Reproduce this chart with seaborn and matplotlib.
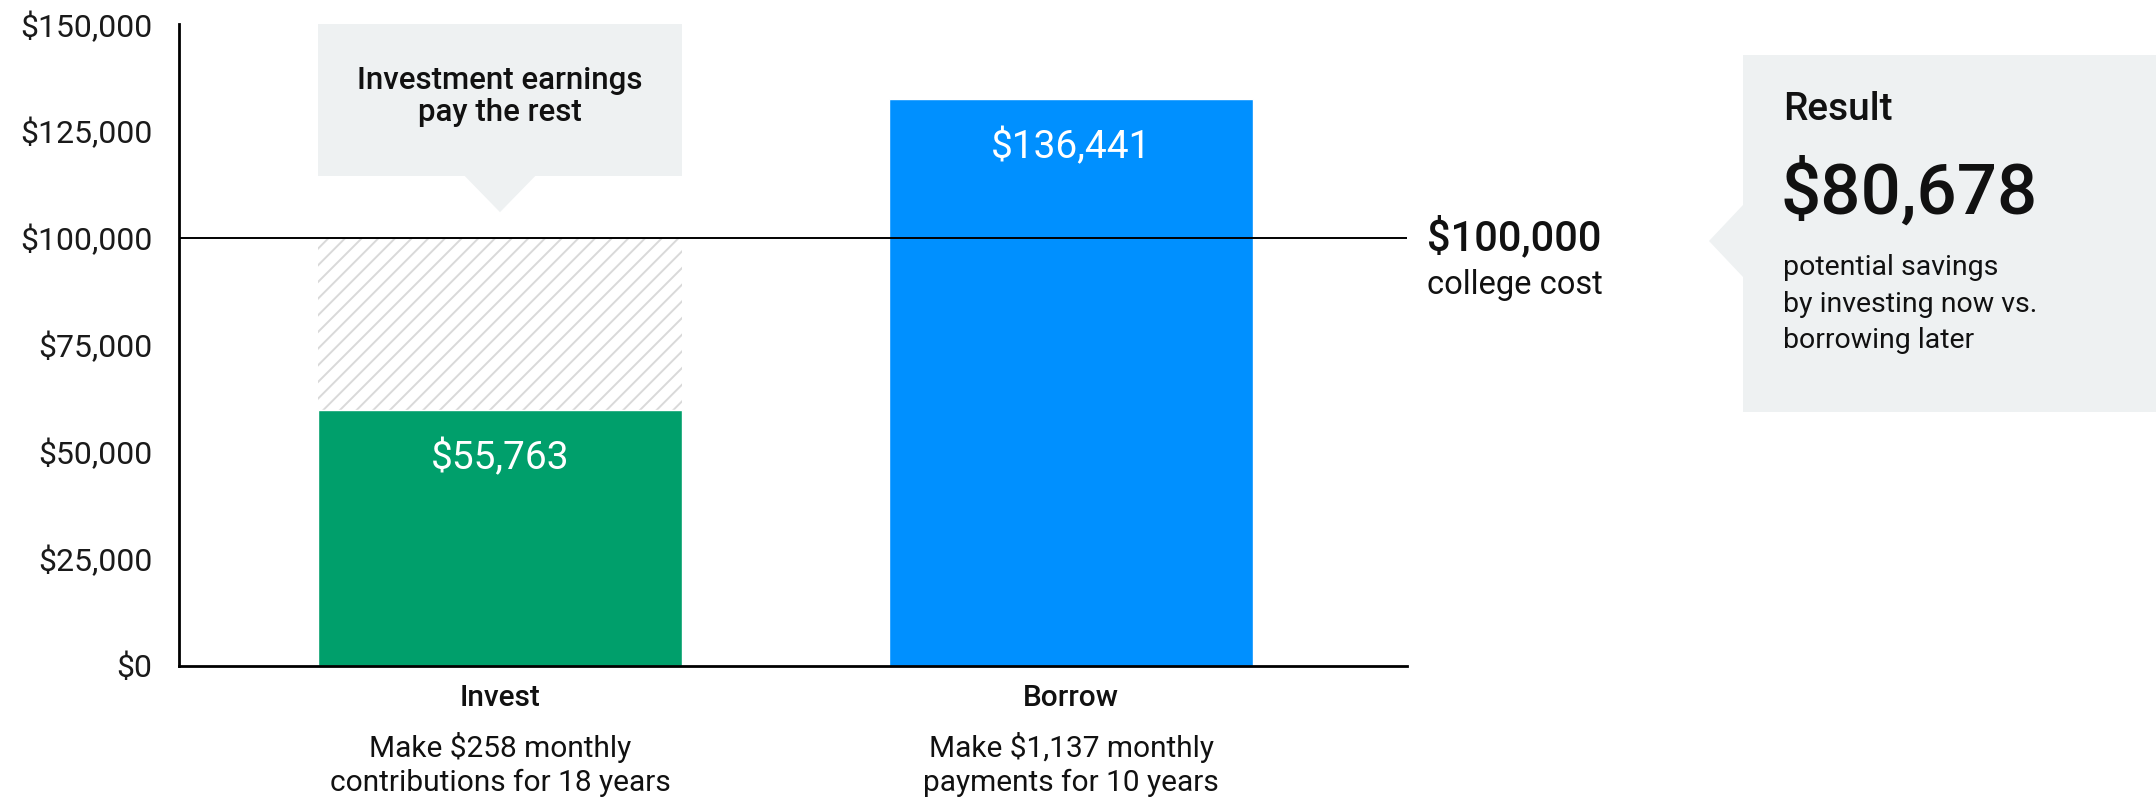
import numpy as np
import pandas as pd
import matplotlib
matplotlib.use("Agg")
import matplotlib.pyplot as plt
from matplotlib.patches import Rectangle, Polygon
import seaborn as sns

sns.set_style("white")
plt.rcParams['font.family'] = ['Roboto', 'DejaVu Sans']
plt.rcParams['hatch.linewidth'] = 1.4

# data
categories = ['Invest', 'Borrow']
bar_heights = [59800, 132500]          # drawn heights
bar_labels = ['$55,763', '$136,441']  # printed values
bar_colors = ['#009f6b', '#0090ff']
college_cost = 100000
cat_titles = ['Invest', 'Borrow']
cat_notes = ['Make $258 monthly\ncontributions for 18 years',
             'Make $1,137 monthly\npayments for 10 years']
y_ticks = [0, 25000, 50000, 75000, 100000, 125000, 150000]
callout_text = 'Investment earnings\npay the rest'
cost_value = '$100,000'
cost_note = 'college cost'
result_title = 'Result'
result_value = '$80,678'
result_note = 'potential savings\nby investing now vs.\nborrowing later'

W, H = 2156, 798
fx = lambda px: px / W
fy = lambda py: 1 - py / H
gray_box = '#eef1f2'
bar_width = 0.6375

fig = plt.figure(figsize=(W / 100, H / 100), dpi=100)
ax = fig.add_axes([fx(179), fy(665.5), fx(1407) - fx(179), fy(24) - fy(665.5)])

# hatched "earnings" part of the invest bar
ax.bar(0, college_cost - bar_heights[0], bottom=bar_heights[0], width=bar_width,
       color='white', edgecolor='#d9d9d9', hatch='//', linewidth=0, zorder=0.5)

sns.barplot(x=categories, y=bar_heights, hue=categories, palette=bar_colors,
            width=bar_width, saturation=1, legend=False, ax=ax, zorder=2)

ax.axhline(college_cost, color='black', lw=1.4, zorder=3)

ax.set_xlim(-0.562, 1.588)
ax.set_ylim(0, 150000)
ax.set_yticks(y_ticks)
ax.set_yticklabels(['${:,.0f}'.format(v) for v in y_ticks], fontsize=23, color='#1a1a1a')
ax.tick_params(axis='y', length=0, pad=19)
ax.set_xticks([])
ax.set_xlabel('')
ax.set_ylabel('')
for s in ['top', 'right']:
    ax.spines[s].set_visible(False)
for s in ['left', 'bottom']:
    ax.spines[s].set_color('black')
    ax.spines[s].set_linewidth(2)
    ax.spines[s].set_zorder(4)

# value labels inside bars
for i, (h, lab) in enumerate(zip(bar_heights, bar_labels)):
    ax.annotate(lab, xy=(i, h), xytext=(0, -48), textcoords='offset pixels',
                ha='center', va='center', color='white', fontsize=28)

# category labels under axis
for i, (t, n) in enumerate(zip(cat_titles, cat_notes)):
    ax.annotate(t, xy=(i, 0), xycoords=('data', 'axes fraction'), xytext=(0, -33),
                textcoords='offset pixels', ha='center', va='center',
                fontsize=21.5, fontweight='medium', color='#111111')
    ax.annotate(n, xy=(i, 0), xycoords=('data', 'axes fraction'), xytext=(0, -99),
                textcoords='offset pixels', ha='center', va='center',
                fontsize=21.5, color='#111111', linespacing=1.3)

# callout above invest bar
box_bottom = 114500
ax.add_patch(Rectangle((-bar_width / 2, box_bottom), bar_width, 150000 - box_bottom,
                       facecolor=gray_box, edgecolor='none', clip_on=False, zorder=1))
ax.add_patch(Polygon([(-0.062, box_bottom), (0.062, box_bottom), (0, 106000)],
                     closed=True, facecolor=gray_box, edgecolor='none', clip_on=False, zorder=1))
ax.text(0, 133000, callout_text, ha='center', va='center', fontsize=22.5,
        fontweight='medium', color='#111111', linespacing=1.15, zorder=5)

# college cost label
fig.text(fx(1427), fy(238), cost_value, ha='left', va='center', fontsize=30,
         fontweight='medium', color='#111111')
fig.text(fx(1427), fy(285), cost_note, ha='left', va='center', fontsize=23.5, color='#111111')

# result box
fig.add_artist(Rectangle((fx(1743), fy(412)), fx(W) - fx(1743), fy(55) - fy(412),
                         transform=fig.transFigure, facecolor=gray_box, edgecolor='none'))
fig.add_artist(Polygon([(fx(1743), fy(205)), (fx(1743), fy(277)), (fx(1709), fy(241))],
                       closed=True, transform=fig.transFigure, facecolor=gray_box, edgecolor='none'))
fig.text(fx(1783), fy(110), result_title, ha='left', va='center', fontsize=28,
         fontweight='medium', color='#111111')
fig.text(fx(1780), fy(192), result_value, ha='left', va='center', fontsize=51,
         fontweight='medium', color='#111111')
fig.text(fx(1783), fy(304), result_note, ha='left', va='center', fontsize=20.5,
         color='#111111', linespacing=1.45)

fig.savefig('out.png', dpi=100)
